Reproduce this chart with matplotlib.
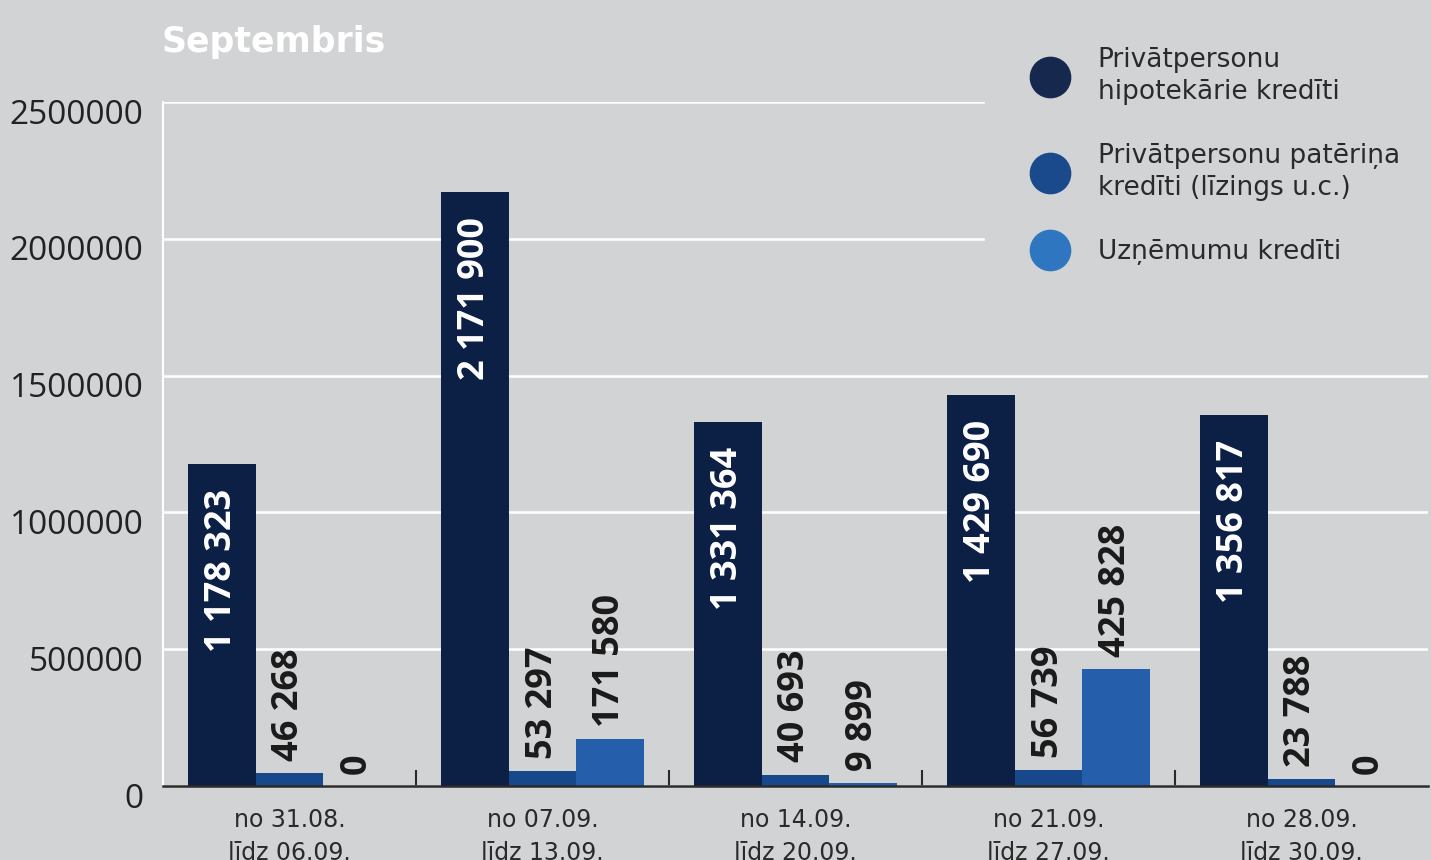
import matplotlib
matplotlib.use("Agg")
import matplotlib.pyplot as plt
from matplotlib.lines import Line2D
from matplotlib.transforms import ScaledTranslation
import numpy as np

# ---- data ----
title = "Septembris"
categories = ["no 31.08.\nlīdz 06.09.", "no 07.09.\nlīdz 13.09.", "no 14.09.\nlīdz 20.09.",
              "no 21.09.\nlīdz 27.09.", "no 28.09.\nlīdz 30.09."]
series_names = ["Privātpersonu\nhipotekārie kredīti",
                "Privātpersonu patēriņa\nkredīti (līzings u.c.)",
                "Uzņēmumu kredīti"]
hipotekarie = [1178323, 2171900, 1331364, 1429690, 1356817]
pateriņa = [46268, 53297, 40693, 56739, 23788]
uznemumu = [0, 171580, 9899, 425828, 0]
y_ticks = [0, 500000, 1000000, 1500000, 2000000, 2500000]
y_ticklabels = ["0", "500000", "1000000", "1500000", "2000000", "2500000"]

# ---- style ----
bg = "#D2D3D5"
bar_colors = ["#0C1F44", "#17488C", "#255FAB"]
legend_colors = ["#17284F", "#1A4A8C", "#2E77C0"]
dark_text = "#222222"

fig = plt.figure(figsize=(14.31, 8.6), dpi=100, facecolor=bg)
ax = fig.add_axes([163 / 1431, 1 - 786 / 860, (1428 - 163) / 1431, (786 - 102) / 860])
ax.set_facecolor(bg)

x = np.arange(len(categories))
w = 0.267
series = [hipotekarie, pateriņa, uznemumu]
offsets = [-w, 0, w]

for vals, off, col in zip(series, offsets, bar_colors):
    ax.bar(x + off, vals, width=w, color=col, zorder=3, linewidth=0)

def fmt(v):
    return f"{v:,}".replace(",", " ")

for i, v in enumerate(hipotekarie):
    ax.annotate(fmt(v), xy=(x[i] - w, v), xytext=(0, -18), textcoords="offset points",
                rotation=90, ha="center", va="top", color="white",
                fontsize=26, fontweight="bold", family="Open Sans", zorder=5)
for vals, off in zip(series[1:], offsets[1:]):
    for i, v in enumerate(vals):
        ax.annotate(fmt(v), xy=(x[i] + off, v), xytext=(0, 9), textcoords="offset points",
                    rotation=90, ha="center", va="bottom", color="#1a1a1a",
                    fontsize=26, fontweight="bold", family="Open Sans", zorder=5)

ax.set_xlim(-0.5, 4.5)
ax.set_ylim(0, 2500000)
ax.set_yticks(y_ticks)
ax.set_yticklabels(y_ticklabels, fontsize=24, family="Open Sans", color=dark_text)
ax.tick_params(axis="y", length=0, pad=14)
shift = ScaledTranslation(0, -9 / 100, fig.dpi_scale_trans)
for lab in ax.get_yticklabels():
    lab.set_transform(lab.get_transform() + shift)

ax.set_xticks(x[:-1] + 0.5)
ax.set_xticklabels([])
ax.tick_params(axis="x", which="major", direction="in", length=11.5, width=1.5, color="#2a2a2a")
ax.set_xticks(x, minor=True)
ax.set_xticklabels(categories, minor=True, fontsize=17, color="#2a2a2a", linespacing=1.45)
ax.tick_params(axis="x", which="minor", length=0, pad=16)

ax.grid(axis="y", color="white", linewidth=1.8, zorder=0)
ax.set_axisbelow(True)
for s in ["top", "right"]:
    ax.spines[s].set_visible(False)
ax.spines["left"].set_color("white")
ax.spines["left"].set_linewidth(1.5)
ax.spines["bottom"].set_color("#2a2a2a")
ax.spines["bottom"].set_linewidth(1.8)
ax.spines["bottom"].set_zorder(4)

fig.text(162 / 1431, 1 - 52 / 860, title, color="white", fontsize=25, fontweight="bold",
         family="DejaVu Sans", va="baseline", ha="left")

handles = [Line2D([], [], marker="o", linestyle="", markersize=29,
                  markerfacecolor=c, markeredgecolor=c) for c in legend_colors]
leg = fig.legend(handles, series_names, loc="upper left", bbox_to_anchor=(985 / 1431, 1 - 2 / 860),
                 bbox_transform=fig.transFigure, frameon=True, facecolor=bg, edgecolor=bg,
                 framealpha=1, fancybox=False, fontsize=19, handlelength=1.5,
                 handletextpad=1.07, borderpad=1.7, labelspacing=1.43, borderaxespad=0)
for t in leg.get_texts():
    t.set_color("#2a2a2a")
    t.set_linespacing(1.32)

fig.savefig("out.png", dpi=100, facecolor=bg)
